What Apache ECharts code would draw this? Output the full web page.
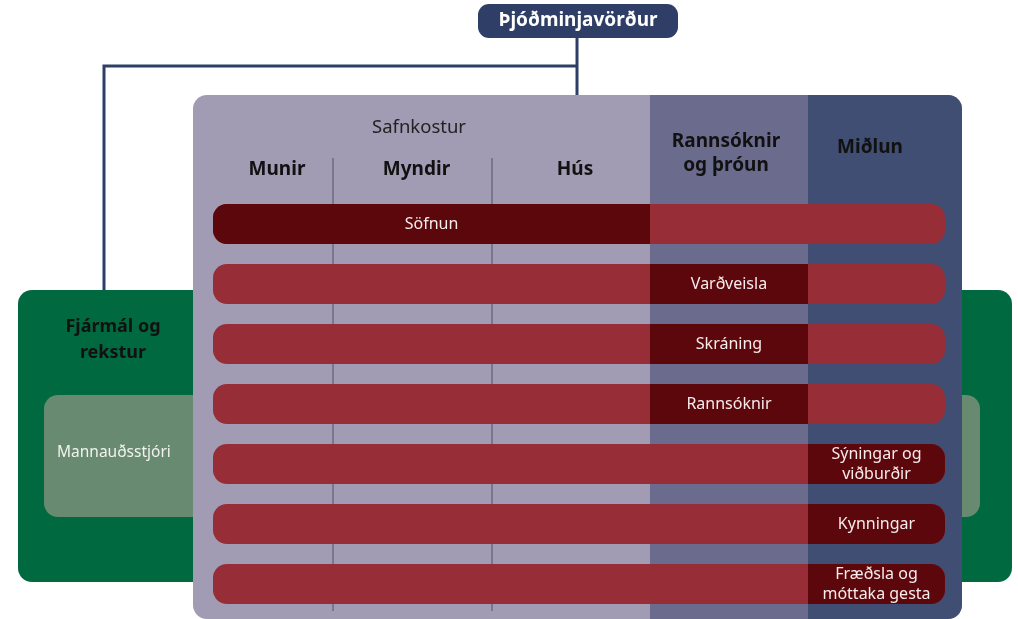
<!DOCTYPE html>
<html>
<head>
<meta charset="utf-8">
<script src="https://cdn.jsdelivr.net/npm/echarts@6/dist/echarts.min.js"></script>
<style>
  html, body { margin: 0; padding: 0; background: #fff; }
  #chart { width: 1018px; height: 619px; }
</style>
</head>
<body>
<div id="chart"></div>
<script>
// names shown in the diagram
const topUnit = 'Þjóðminjavörður';
const sideUnit = 'Fjármál og\nrekstur';
const sideSubUnit = 'Mannauðsstjóri';
const groups = ['Safnkostur', 'Rannsóknir\nog þróun', 'Miðlun'];
const subColumns = ['Munir', 'Myndir', 'Hús'];
const tasks = ['Söfnun', 'Varðveisla', 'Skráning', 'Rannsóknir', 'Sýningar og\nviðburðir', 'Kynningar', 'Fræðsla og\nmóttaka gesta'];
// which group leads each task (index into groups)
const taskOwner = [0, 1, 1, 1, 2, 2, 2];

// layout in diagram units (hidden axes map 1 unit = 1 px)
const groupEdges = [193, 650, 808, 962];
const subEdges = [193, 333, 492, 650];
const groupColors = ['#a19cb3', '#6b6c8d', '#404e73'];
const panelY = [95, 619];
const barX = [213, 945];
const rowTop = 204, rowStep = 60, rowH = 40;

const NAVY = '#2f3e66';
const RED = '#962d37';
const DARK = '#5c070c';
const FONT = '"Noto Sans", "Open Sans", sans-serif';

const chart = echarts.init(document.getElementById('chart'));

const rect = (api, x0, y0, x1, y1, r, fill) => {
  const a = api.coord([x0, y0]);
  const b = api.coord([x1, y1]);
  return { type: 'rect', shape: { x: a[0], y: a[1], width: b[0] - a[0], height: b[1] - a[1], r: r }, style: { fill: fill } };
};
const text = (api, x, y, str, font, fill, align, lh) => {
  const p = api.coord([x, y]);
  return { type: 'text', style: { text: str, x: p[0], y: p[1], font: font, fill: fill, align: align || 'center', verticalAlign: 'middle', lineHeight: lh || 20 } };
};
const line = (api, pts) => ({
  type: 'polyline',
  shape: { points: pts.map(p => api.coord(p)) },
  style: { stroke: NAVY, lineWidth: 3, fill: null }
});

// background: side unit, connectors, top unit, panel with columns
const renderFrame = (params, api) => {
  const children = [
    rect(api, 18, 290, 1012, 582, 14, '#00693f'),
    rect(api, 44, 395, 980, 517, 14, '#688a70'),
    text(api, 113, 340, sideUnit, 'bold 18px ' + FONT, '#111', 'center', 26),
    text(api, 57, 453, sideSubUnit, '15.5px ' + FONT, '#f2f2ee', 'left'),
    line(api, [[104, 290], [104, 66], [577, 66]]),
    line(api, [[577, 38], [577, 95]]),
    rect(api, 478, 4, 678, 38, 11, NAVY),
    text(api, 578, 21, topUnit, 'bold 19px ' + FONT, '#fff', 'center'),
    rect(api, groupEdges[0], panelY[0], groupEdges[3], panelY[1], 14, groupColors[0]),
    rect(api, groupEdges[1], panelY[0], groupEdges[2], panelY[1], 0, groupColors[1]),
    rect(api, groupEdges[2], panelY[0], groupEdges[3], panelY[1], [0, 14, 14, 0], groupColors[2])
  ];
  for (let i = 1; i < subEdges.length - 1; i++) {
    const a = api.coord([subEdges[i], 158]);
    const b = api.coord([subEdges[i], 611]);
    children.push({ type: 'line', shape: { x1: a[0], y1: a[1], x2: b[0], y2: b[1] }, style: { stroke: '#6b6a86', lineWidth: 1.5 } });
  }
  // group headers
  children.push(text(api, 419, 128, groups[0], '18.5px ' + FONT, '#222', 'center'));
  children.push(text(api, 726, 154, groups[1], 'bold 19px ' + FONT, '#111', 'center', 24));
  children.push(text(api, 870, 148, groups[2], 'bold 19px ' + FONT, '#111', 'center'));
  subColumns.forEach((name, i) => {
    const cx = (Math.max(subEdges[i], barX[0]) + subEdges[i + 1]) / 2 + 4;
    children.push(text(api, cx, 170, name, 'bold 19px ' + FONT, '#111', 'center'));
  });
  return { type: 'group', children: children };
};

// one red bar per task, darker segment over the leading group
const renderTask = (params, api) => {
  const i = api.value(0);
  const y0 = rowTop + i * rowStep;
  const y1 = y0 + rowH;
  const g = taskOwner[i];
  const x0 = Math.max(groupEdges[g], barX[0]);
  const x1 = Math.min(groupEdges[g + 1], barX[1]);
  const rl = x0 === barX[0] ? 14 : 0;
  const rr = x1 === barX[1] ? 14 : 0;
  return {
    type: 'group',
    children: [
      rect(api, barX[0], y0, barX[1], y1, 14, RED),
      rect(api, x0, y0, x1, y1, [rl, rr, rr, rl], DARK),
      text(api, (x0 + x1) / 2, (y0 + y1) / 2, tasks[i], '16px ' + FONT, '#f6ecec', 'center', 20)
    ]
  };
};

chart.setOption({
  animation: false,
  grid: { left: 0, right: 0, top: 0, bottom: 0 },
  xAxis: { type: 'value', min: 0, max: 1018, show: false },
  yAxis: { type: 'value', min: 0, max: 619, inverse: true, show: false },
  series: [
    { type: 'custom', renderItem: renderFrame, data: [[0]], clip: false, silent: true },
    { type: 'custom', renderItem: renderTask, data: tasks.map((t, i) => [i]), clip: false, silent: true }
  ]
});
</script>
</body>
</html>
